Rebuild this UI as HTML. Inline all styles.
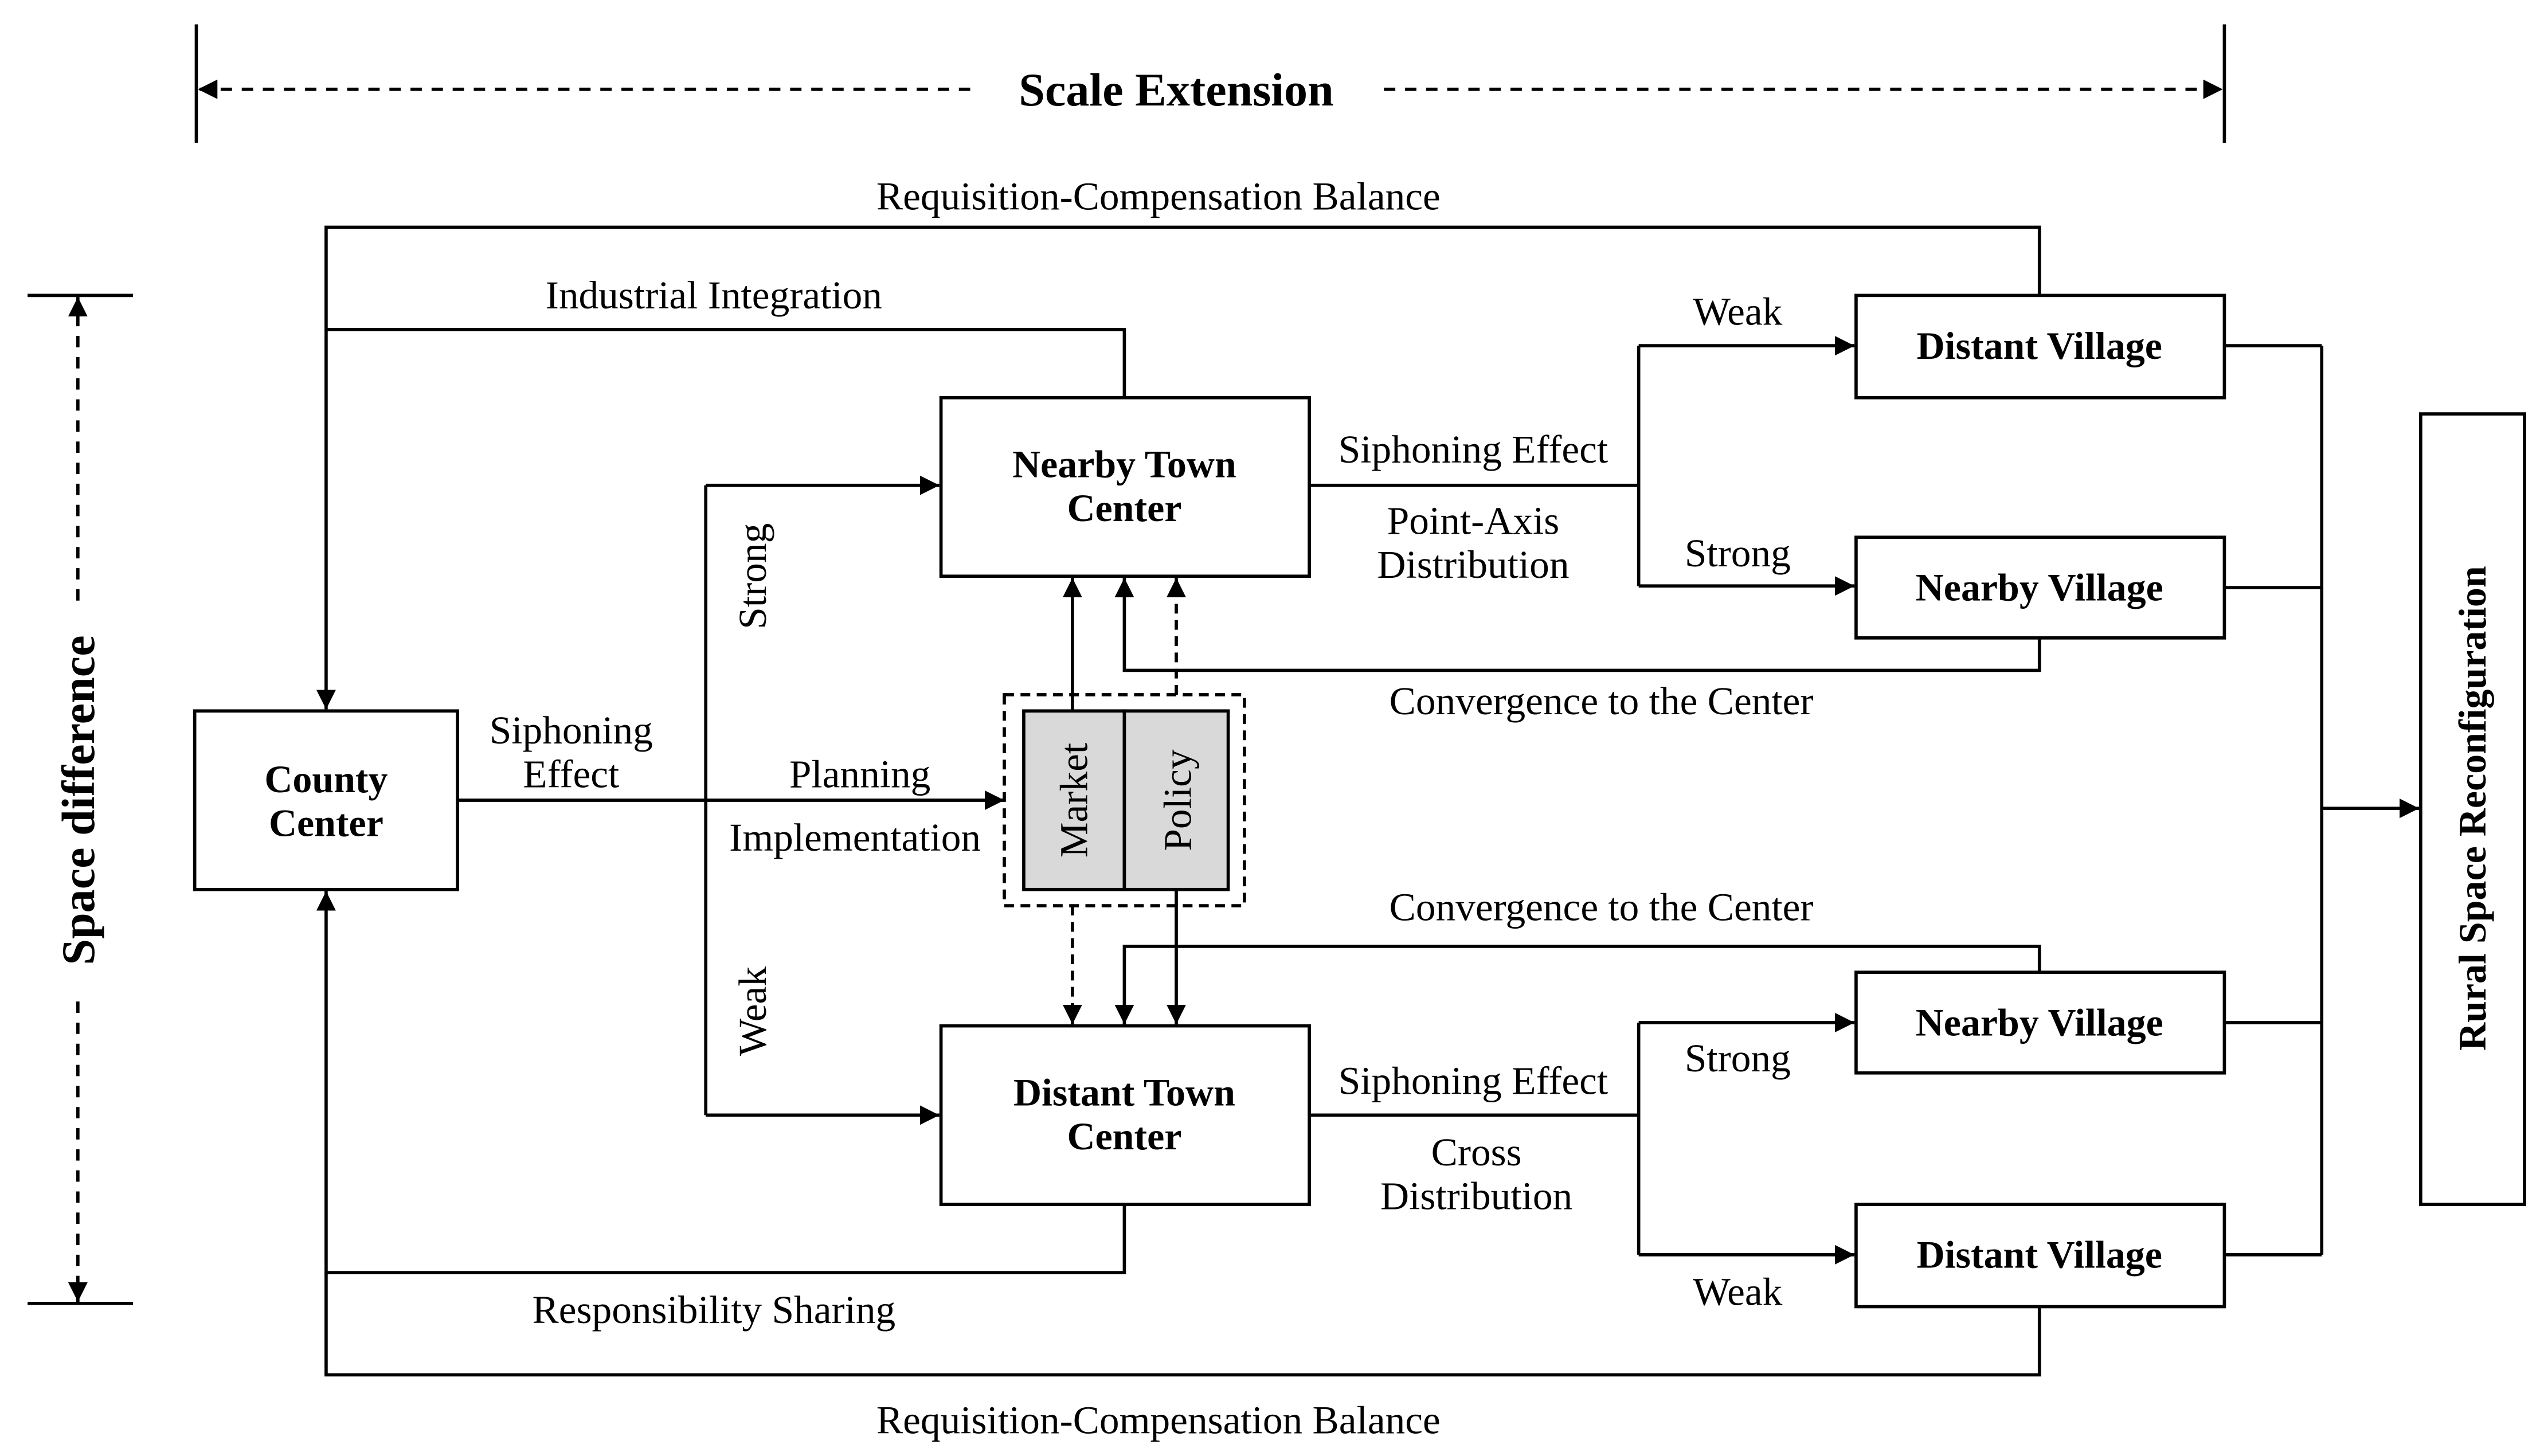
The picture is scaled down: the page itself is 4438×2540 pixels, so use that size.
<!DOCTYPE html>
<html><head><meta charset="utf-8"><style>
html,body{margin:0;padding:0;background:#fff;}
svg{display:block;}
text{font-family:"Liberation Serif",serif;fill:#000;}
.l{font-size:24.5px;}
.b{font-size:24px;font-weight:bold;}
</style></head><body>
<svg width="4438" height="2540" viewBox="0 0 1568 897" preserveAspectRatio="none" xmlns="http://www.w3.org/2000/svg">
<defs>
<marker id="a2" viewBox="0 0 10 10" refX="10" refY="5" markerWidth="12" markerHeight="12" markerUnits="userSpaceOnUse" orient="auto"><path d="M0,0L10,5L0,10z" fill="#000"/></marker>
</defs>
<g stroke="#000" stroke-width="2" fill="none">
<line x1="121" y1="15" x2="121" y2="88"/><line x1="1371" y1="15" x2="1371" y2="88"/>
<line x1="598" y1="55" x2="122" y2="55" stroke-dasharray="7,6" marker-end="url(#a2)"/>
<line x1="853" y1="55" x2="1370" y2="55" stroke-dasharray="7,6" marker-end="url(#a2)"/>
<line x1="17" y1="182" x2="82" y2="182"/><line x1="17" y1="803" x2="82" y2="803"/>
<line x1="48" y1="370" x2="48" y2="183" stroke-dasharray="7,6" marker-end="url(#a2)"/>
<line x1="48" y1="617" x2="48" y2="802" stroke-dasharray="7,6" marker-end="url(#a2)"/>
<rect x="120" y="438" width="162" height="110"/>
<rect x="580" y="245" width="227" height="110"/>
<rect x="580" y="632" width="227" height="110"/>
<rect x="1144" y="182" width="227" height="63"/>
<rect x="1144" y="331" width="227" height="62"/>
<rect x="1144" y="599" width="227" height="62"/>
<rect x="1144" y="742" width="227" height="63"/>
<rect x="1492" y="255" width="64" height="487"/>
<rect x="619" y="428" width="148" height="130" stroke-dasharray="6,4"/>
<rect x="631" y="438" width="62" height="110" fill="#d9d9d9"/>
<rect x="693" y="438" width="64" height="110" fill="#d9d9d9"/>
<polyline points="1257,182 1257,140 201,140 201,437" marker-end="url(#a2)"/>
<polyline points="693,245 693,203 201,203"/>
<line x1="282" y1="493" x2="619" y2="493" marker-end="url(#a2)"/>
<line x1="435" y1="299" x2="435" y2="687"/>
<line x1="435" y1="299" x2="579" y2="299" marker-end="url(#a2)"/>
<line x1="435" y1="687" x2="579" y2="687" marker-end="url(#a2)"/>
<line x1="807" y1="299" x2="1010" y2="299"/>
<line x1="1010" y1="213" x2="1010" y2="361"/>
<line x1="1010" y1="213" x2="1143" y2="213" marker-end="url(#a2)"/>
<line x1="1010" y1="361" x2="1143" y2="361" marker-end="url(#a2)"/>
<polyline points="1257,393 1257,413 693,413 693,356" marker-end="url(#a2)"/>
<line x1="661" y1="438" x2="661" y2="356" marker-end="url(#a2)"/>
<line x1="725" y1="428" x2="725" y2="356" stroke-dasharray="6,4" marker-end="url(#a2)"/>
<line x1="661" y1="558" x2="661" y2="631" stroke-dasharray="6,4" marker-end="url(#a2)"/>
<line x1="725" y1="548" x2="725" y2="631" marker-end="url(#a2)"/>
<polyline points="1257,599 1257,583 693,583 693,631" marker-end="url(#a2)"/>
<line x1="807" y1="687" x2="1010" y2="687"/>
<line x1="1010" y1="630" x2="1010" y2="773"/>
<line x1="1010" y1="630" x2="1143" y2="630" marker-end="url(#a2)"/>
<line x1="1010" y1="773" x2="1143" y2="773" marker-end="url(#a2)"/>
<polyline points="693,742 693,784 201,784 201,549" marker-end="url(#a2)"/>
<polyline points="1257,805 1257,847 201,847 201,784"/>
<line x1="1371" y1="213" x2="1431" y2="213"/>
<line x1="1371" y1="362" x2="1431" y2="362"/>
<line x1="1371" y1="630" x2="1431" y2="630"/>
<line x1="1371" y1="773" x2="1431" y2="773"/>
<line x1="1431" y1="213" x2="1431" y2="773"/>
<line x1="1431" y1="498" x2="1491" y2="498" marker-end="url(#a2)"/>
</g>
<g text-anchor="middle">
<text class="b" x="725" y="65" style="font-size:29px">Scale Extension</text>
<text class="b" transform="translate(58,493) rotate(-90)" style="font-size:29px">Space difference</text>
<text class="l" x="714" y="129">Requisition-Compensation Balance</text>
<text class="l" x="440" y="190">Industrial Integration</text>
<text class="l" x="352" y="458">Siphoning</text>
<text class="l" x="352" y="485">Effect</text>
<text class="l" x="530" y="485">Planning</text>
<text class="l" x="527" y="524">Implementation</text>
<text class="l" transform="translate(472,355) rotate(-90)">Strong</text>
<text class="l" transform="translate(472,623) rotate(-90)">Weak</text>
<text class="b" x="201" y="488">County</text>
<text class="b" x="201" y="515">Center</text>
<text class="b" x="693" y="294">Nearby Town</text>
<text class="b" x="693" y="321">Center</text>
<text class="b" x="693" y="681">Distant Town</text>
<text class="b" x="693" y="708">Center</text>
<text class="l" transform="translate(670,493) rotate(-90)">Market</text>
<text class="l" transform="translate(734,493) rotate(-90)">Policy</text>
<text class="l" x="908" y="285">Siphoning Effect</text>
<text class="l" x="908" y="329">Point-Axis</text>
<text class="l" x="908" y="356">Distribution</text>
<text class="l" x="1071" y="200">Weak</text>
<text class="l" x="1071" y="349">Strong</text>
<text class="b" x="1257" y="221">Distant Village</text>
<text class="b" x="1257" y="370">Nearby Village</text>
<text class="b" x="1257" y="638">Nearby Village</text>
<text class="b" x="1257" y="781">Distant Village</text>
<text class="l" x="987" y="440">Convergence to the Center</text>
<text class="l" x="987" y="567">Convergence to the Center</text>
<text class="l" x="908" y="674">Siphoning Effect</text>
<text class="l" x="910" y="718">Cross</text>
<text class="l" x="910" y="745">Distribution</text>
<text class="l" x="1071" y="660">Strong</text>
<text class="l" x="1071" y="804">Weak</text>
<text class="l" x="440" y="815">Responsibility Sharing</text>
<text class="l" x="714" y="883">Requisition-Compensation Balance</text>
<text class="b" transform="translate(1532,498) rotate(-90)">Rural Space Reconfiguration</text>
</g>
</svg>
</body></html>
